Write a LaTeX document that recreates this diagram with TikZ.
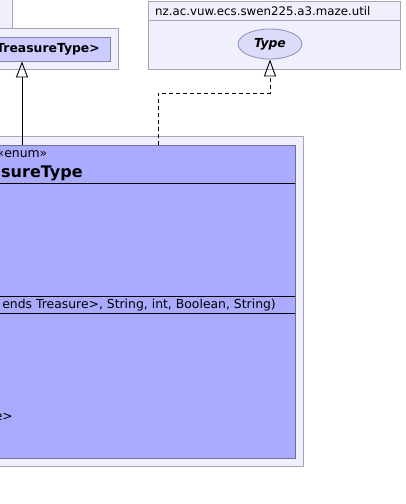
\documentclass[tikz,border=0pt]{standalone}
\usepackage{fontspec}
\setmainfont{DejaVu Sans}
\usetikzlibrary{arrows.meta,shapes.geometric}
\definecolor{pkgfill}{RGB}{240,240,252}
\definecolor{pkgdraw}{RGB}{165,165,185}
\definecolor{clsfill}{RGB}{170,170,255}
\definecolor{clsdraw}{RGB}{110,110,150}
\definecolor{innfill}{RGB}{204,204,255}
\definecolor{inndraw}{RGB}{130,130,170}
\definecolor{ellfill}{RGB}{220,220,250}
\definecolor{elldraw}{RGB}{150,150,190}
\tikzset{
  pkg/.style={draw=pkgdraw, fill=pkgfill, line width=0.9pt},
  clsbox/.style={draw=clsdraw, fill=clsfill, line width=0.9pt, inner sep=0pt, outer sep=0pt},
  innbox/.style={draw=inndraw, fill=innfill, line width=0.9pt, inner sep=0pt},
  typeell/.style={ellipse, draw=elldraw, fill=ellfill, line width=0.9pt, inner sep=0pt, minimum width=64pt, minimum height=30pt},
  txt/.style={inner sep=0pt, font=\fontsize{12.4}{15}\selectfont},
  pkgtxt/.style={inner sep=0pt, font=\fontsize{11.8}{14}\selectfont},
  btxt/.style={inner sep=0pt, font=\fontsize{12.4}{15}\selectfont\bfseries},
  big/.style={inner sep=0pt, font=\fontsize{16}{19}\selectfont\bfseries},
  sep/.style={draw=black, line width=0.9pt},
  gen/.style={draw=black, line width=0.9pt, -{Triangle[open, length=16pt, width=12pt]}},
  realz/.style={draw=black, line width=0.9pt, dash pattern=on 4pt off 3pt, -{Triangle[open, length=17pt, width=12pt]}}
}
\begin{document}
\begin{tikzpicture}[x=1pt,y=1pt]
\useasboundingbox (0,0) rectangle (405,-504);
\fill[white] (0,0) rectangle (405,-504);
\clip (0,0) rectangle (405,-504);
% package java.lang (left, mostly clipped)
\draw[pkg] (-80,5) rectangle (12,-28);
\draw[pkg] (-80,-28) rectangle (118,-69);
\node[innbox, minimum width=176pt, minimum height=24pt] (enumn) at (22,-49) {};
\node[btxt, anchor=east] (enumt) at (100,-49) {TreasureType>};
% package util
\draw[pkg] (148,-1.5) rectangle (400,-69);
\draw[pkg] (148,-20.5) -- (400,-20.5);
\node[pkgtxt, anchor=west] (utilt) at (155,-11) {nz.ac.vuw.ecs.swen225.a3.maze.util};
\node[typeell] (type) at (270,-44) {};
\node[btxt, font=\fontsize{12.4}{15}\selectfont\bfseries\itshape] (typet) at (270,-44) {Type};
% main package
\draw[pkg] (-260,-136) rectangle (303,-466);
\node[clsbox, minimum width=546pt, minimum height=313pt, anchor=north] (cls) at (22,-145) {};
\draw[sep] (-251,-183) -- (295,-183);
\draw[sep] (-251,-296) -- (295,-296);
\draw[sep] (-251,-313) -- (295,-313);
\node[txt] (stereo) at (22,-154) {«enum»};
\node[big, anchor=west] (name) at (1,-173) {sureType};
\node[txt, anchor=east] (ctor) at (276,-305) {ends Treasure>, String, int, Boolean, String)};
\node[txt, anchor=east] (meth) at (13,-417) {e>};
% connectors
\draw[gen] (cls.north) -- (enumn.south);
\coordinate (r0) at (158,-145);
\draw[realz] (r0) -- ++(0,52) -| (type.south);
\end{tikzpicture}
\end{document}
